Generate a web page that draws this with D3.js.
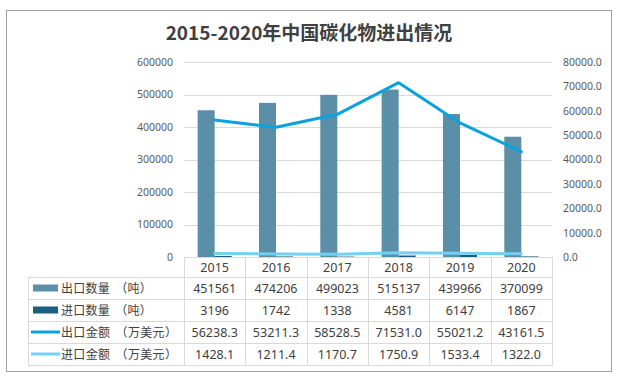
<!DOCTYPE html>
<html><head><meta charset="utf-8">
<script src="https://cdn.jsdelivr.net/npm/d3@7"></script>
<style>body{margin:0;background:#fff}svg{display:block}</style>
</head><body>
<script>
const years = ["2015","2016","2017","2018","2019","2020"];
const exportQty = [451561,474206,499023,515137,439966,370099];
const importQty = [3196,1742,1338,4581,6147,1867];
const exportVal = [56238.3,53211.3,58528.5,71531.0,55021.2,43161.5];
const importVal = [1428.1,1211.4,1170.7,1750.9,1533.4,1322.0];
const leftTicks = [0,100000,200000,300000,400000,500000,600000];
const rightTicks = [0,10000,20000,30000,40000,50000,60000,70000,80000];
const seriesNames = ["出口数量（吨）","进口数量（吨）","出口金额（万美元）","进口金额（万美元）"];
const title = "2015-2020年中国碳化物进出情况";

const W=620,H=380;
const colors = {eq:"#5b8fa8", iq:"#1d5f7e", ev:"#0aa2dc", iv:"#72d0f4"};
const font = "'Noto Sans','Noto Sans CJK SC',sans-serif";
const svg = d3.select("body").append("svg").attr("width",W).attr("height",H)
  .style("font-family",font);

svg.append("rect").attr("x",6.5).attr("y",10.5).attr("width",605).attr("height",361)
  .attr("fill","#fff").attr("stroke","#a0a0a0");

svg.append("text").attr("x",309).attr("y",40).attr("text-anchor","middle")
  .attr("font-size",19).attr("font-weight","bold").attr("fill","#404040")
  .attr("font-family","'Noto Sans CJK SC',sans-serif").text(title);

const x0=184,x1=552,yTop=62,yBot=257;
const x = d3.scaleBand().domain(years).range([x0,x1]).padding(0);
const xs = d3.scaleBand().domain(["e","i"]).range([0,x.bandwidth()]).paddingInner(0).paddingOuter(0.8);
const yL = d3.scaleLinear().domain([0,600000]).range([yBot,yTop]);
const yR = d3.scaleLinear().domain([0,80000]).range([yBot,yTop]);

// grid
svg.append("g").selectAll("line").data(leftTicks.slice(1)).join("line")
  .attr("x1",x0).attr("x2",x1).attr("y1",d=>Math.round(yL(d))+0.5).attr("y2",d=>Math.round(yL(d))+0.5)
  .attr("stroke","#d9d9d9");

// axes
const gl = svg.append("g").attr("transform",`translate(${x0},0)`)
  .call(d3.axisLeft(yL).tickValues(leftTicks).tickSize(0).tickPadding(11).tickFormat(d3.format("d")));
gl.select(".domain").remove();
gl.selectAll("text").attr("fill","#595959").attr("font-size",10.5).attr("font-family",font);
const gr = svg.append("g").attr("transform",`translate(${x1},0)`)
  .call(d3.axisRight(yR).tickValues(rightTicks).tickSize(0).tickPadding(11).tickFormat(d3.format(".1f")));
gr.select(".domain").remove();
gr.selectAll("text").attr("fill","#595959").attr("font-size",10.5).attr("font-family",font);

// bars
svg.append("g").selectAll("rect").data(years).join("rect")
  .attr("x",d=>x(d)+xs("e")).attr("width",xs.bandwidth())
  .attr("y",(d,i)=>yL(exportQty[i])).attr("height",(d,i)=>yBot-yL(exportQty[i])).attr("fill",colors.eq);
svg.append("g").selectAll("rect").data(years).join("rect")
  .attr("x",d=>x(d)+xs("i")).attr("width",xs.bandwidth())
  .attr("y",(d,i)=>yL(importQty[i])).attr("height",(d,i)=>yBot-yL(importQty[i])).attr("fill",colors.iq);

// lines
const cx = d=>x(d)+x.bandwidth()/2;
const lineE = d3.line().x((d,i)=>cx(years[i])).y(d=>yR(d));
svg.append("path").datum(importVal).attr("d",lineE).attr("fill","none")
  .attr("stroke",colors.iv).attr("stroke-width",3).attr("stroke-linejoin","round").attr("stroke-linecap","round");
svg.append("path").datum(exportVal).attr("d",lineE).attr("fill","none")
  .attr("stroke",colors.ev).attr("stroke-width",3).attr("stroke-linejoin","round").attr("stroke-linecap","round");

// table
const tl=28, rowY=[257,277,299,321,343,365];
const tg = svg.append("g").attr("stroke","#d9d9d9").attr("stroke-width",1);
rowY.forEach((y,k)=>{
  tg.append("line").attr("x1",k===0?x0:tl).attr("x2",x1).attr("y1",y+0.5).attr("y2",y+0.5);
});
tg.append("line").attr("x1",tl+0.5).attr("x2",tl+0.5).attr("y1",rowY[1]).attr("y2",rowY[5]+0.5);
years.concat(["end"]).forEach((d,i)=>{
  const xx = x0 + i*x.bandwidth();
  tg.append("line").attr("x1",Math.round(xx)+0.5).attr("x2",Math.round(xx)+0.5).attr("y1",rowY[0]).attr("y2",rowY[5]+0.5);
});
const tt = svg.append("g").attr("fill","#404040").attr("font-size",12.5).attr("text-anchor","middle");
tt.selectAll("text.y").data(years).join("text").attr("class","y")
  .attr("x",cx).attr("y",(rowY[0]+rowY[1])/2+4.5).text(d=>d);
const rows = [exportQty.map(d3.format("d")), importQty.map(d3.format("d")),
  exportVal.map(d3.format(".1f")), importVal.map(d3.format(".1f"))];
rows.forEach((r,k)=>{
  tt.append("g").selectAll("text").data(r).join("text")
    .attr("x",(d,i)=>cx(years[i])).attr("y",(rowY[k+1]+rowY[k+2])/2+4.5).text(d=>d);
});
// legend column
const keyColors=[colors.eq,colors.iq,colors.ev,colors.iv];
seriesNames.forEach((n,k)=>{
  const ym=(rowY[k+1]+rowY[k+2])/2;
  if(k<2) svg.append("rect").attr("x",33).attr("y",ym-3.5).attr("width",25).attr("height",7).attr("fill",keyColors[k]);
  else svg.append("line").attr("x1",31).attr("x2",60).attr("y1",ym).attr("y2",ym).attr("stroke",keyColors[k]).attr("stroke-width",3);
  const t = svg.append("text").attr("x",61).attr("y",ym+4.5).attr("font-size",12).attr("fill","#404040")
    .attr("font-family","'Noto Sans CJK SC',sans-serif");
  const p = n.indexOf("（");
  t.append("tspan").text(n.slice(0,p));
  t.append("tspan").attr("dx",5).text("（");
  t.append("tspan").text(n.slice(p+1));
  const L = t.node().getComputedTextLength();
  const T = 86 + (Array.from(n).length-7)*12.7;
  const ls = Math.max(0,(T-L)/Array.from(n).length);
  t.style("letter-spacing",ls+"px");
});
</script>
</body></html>
